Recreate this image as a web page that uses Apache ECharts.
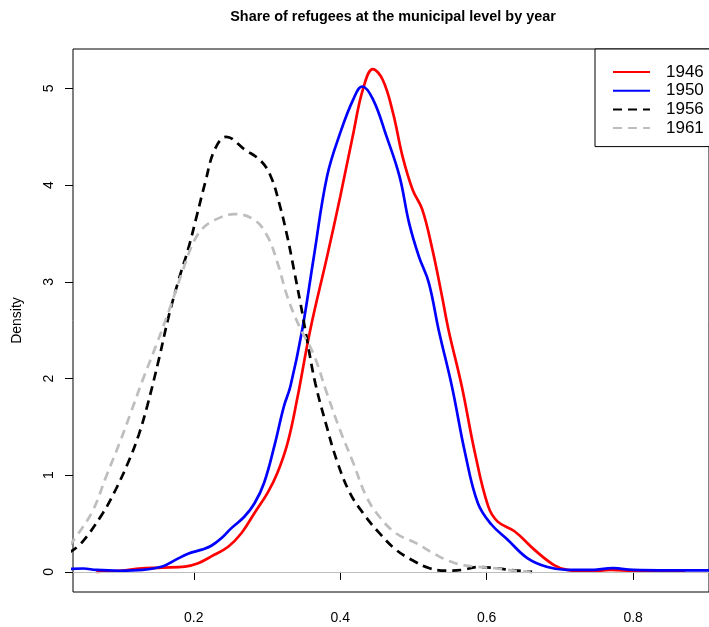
<!DOCTYPE html>
<html>
<head>
<meta charset="utf-8">
<title>Share of refugees at the municipal level by year</title>
<script src="https://cdn.jsdelivr.net/npm/echarts@6/dist/echarts.min.js"></script>
<style>
  html, body { margin: 0; padding: 0; background: #fff; }
  #chart { width: 709px; height: 627px; }
</style>
</head>
<body>
<div id="chart"></div>
<script>
// density curves, [share, density]
const years = ["1946", "1950", "1956", "1961"];
const colors = ["#ff0000", "#0000ff", "#000000", "#bebebe"];

const dens1946 = [
  [0.067, 0.0], [0.08, 0.005], [0.0985, 0.01], [0.125, 0.035], [0.157, 0.045],
  [0.188, 0.055], [0.206, 0.09], [0.224, 0.16], [0.247, 0.26], [0.265, 0.40],
  [0.283, 0.61], [0.301, 0.82], [0.314, 1.02], [0.328, 1.33], [0.341, 1.78],
  [0.359, 2.5], [0.382, 3.26], [0.400, 3.88], [0.418, 4.54], [0.431, 4.99],
  [0.4446, 5.20], [0.458, 5.09], [0.472, 4.75], [0.485, 4.30], [0.499, 3.95],
  [0.512, 3.75], [0.526, 3.33], [0.539, 2.85], [0.548, 2.50], [0.566, 1.92],
  [0.584, 1.23], [0.602, 0.68], [0.615, 0.52], [0.638, 0.42], [0.665, 0.23],
  [0.692, 0.07], [0.71, 0.02], [0.74, 0.005], [0.77, 0.02], [0.80, 0.01],
  [0.84, 0.008], [0.871, 0.005]
];

const dens1950 = [
  [0.03, 0.03], [0.049, 0.035], [0.067, 0.02], [0.0985, 0.012], [0.13, 0.02],
  [0.157, 0.055], [0.175, 0.124], [0.193, 0.19], [0.211, 0.23], [0.224, 0.27],
  [0.238, 0.35], [0.251, 0.45], [0.269, 0.57], [0.283, 0.71], [0.296, 0.92],
  [0.31, 1.3], [0.323, 1.71], [0.332, 1.92], [0.348, 2.5], [0.364, 3.26],
  [0.382, 4.09], [0.400, 4.54], [0.418, 4.89], [0.430, 5.02], [0.4446, 4.89],
  [0.463, 4.51], [0.481, 4.09], [0.494, 3.61], [0.5075, 3.26], [0.521, 2.99],
  [0.5345, 2.5], [0.5525, 1.92], [0.5705, 1.23], [0.588, 0.71], [0.6065, 0.49],
  [0.629, 0.33], [0.656, 0.14], [0.683, 0.05], [0.71, 0.02], [0.74, 0.02],
  [0.773, 0.038], [0.80, 0.02], [0.85, 0.015], [0.91, 0.015]
];

const dens1956 = [
  [0.03, 0.2], [0.0468, 0.30], [0.076, 0.61], [0.094, 0.86], [0.112, 1.16],
  [0.125, 1.42], [0.1366, 1.72], [0.1524, 2.2], [0.166, 2.65], [0.1794, 3.02],
  [0.1928, 3.35], [0.204, 3.68], [0.2154, 4.02], [0.2288, 4.37], [0.2445, 4.50],
  [0.2693, 4.37], [0.2917, 4.25], [0.3052, 4.09], [0.3165, 3.82], [0.3277, 3.47],
  [0.3367, 3.13], [0.3457, 2.78], [0.3547, 2.40], [0.366, 1.95], [0.3817, 1.50],
  [0.395, 1.16], [0.413, 0.82], [0.431, 0.61], [0.4536, 0.40], [0.476, 0.23],
  [0.4986, 0.12], [0.521, 0.04], [0.5435, 0.013], [0.566, 0.02], [0.588, 0.05],
  [0.611, 0.04], [0.633, 0.02], [0.662, 0.0]
];

const dens1961 = [
  [0.03, 0.27], [0.040, 0.37], [0.0625, 0.64], [0.0805, 0.99], [0.0985, 1.33],
  [0.1142, 1.65], [0.13, 1.98], [0.148, 2.33], [0.166, 2.70],
  [0.1838, 3.09], [0.1973, 3.37], [0.2108, 3.54], [0.2288, 3.64], [0.2558, 3.70],
  [0.2828, 3.64], [0.3007, 3.47], [0.3142, 3.20], [0.3277, 2.85], [0.3435, 2.55],
  [0.3637, 2.25], [0.3817, 1.85], [0.3996, 1.47], [0.4177, 1.13], [0.4356, 0.78],
  [0.4536, 0.57], [0.476, 0.40], [0.503, 0.30], [0.530, 0.18], [0.557, 0.09],
  [0.584, 0.055], [0.611, 0.038], [0.638, 0.013], [0.66, 0.0]
];

const xTicks = [0.2, 0.4, 0.6, 0.8];
const yTicks = [0, 1, 2, 3, 4, 5];

const font = "'Liberation Sans', Arial, Helvetica, sans-serif";
const allDens = [dens1946, dens1950, dens1956, dens1961];

const series = allDens.map((d, i) => ({
  name: years[i],
  type: "line",
  data: d,
  symbol: "none",
  smooth: 0.4,
  clip: true,
  lineStyle: {
    color: colors[i],
    width: 2.7,
    type: i >= 2 ? [9, 6] : "solid"
  },
  itemStyle: { color: colors[i] },
  markLine: i === 0 ? {
    silent: true,
    symbol: "none",
    label: { show: false },
    lineStyle: { color: "#bebebe", width: 1, type: "solid" },
    data: [{ yAxis: 0 }]
  } : undefined
}));

const chart = echarts.init(document.getElementById("chart"));
chart.setOption({
  animation: false,
  textStyle: { fontFamily: font },
  graphic: [{
    type: "text",
    x: 393,
    y: 17,
    style: {
      text: "Share of refugees at the municipal level by year",
      font: "bold 14.4px " + font,
      fill: "#000",
      textAlign: "center",
      textVerticalAlign: "middle"
    }
  }],
  grid: {
    left: 73,
    top: 49,
    width: 644,
    height: 543,
    show: true,
    borderColor: "#000",
    borderWidth: 1
  },
  legend: {
    orient: "vertical",
    left: 595,
    top: 49,
    data: years,
    itemWidth: 37,
    itemHeight: 14,
    itemGap: 1.7,
    padding: [14.5, 60, 10, 17],
    borderColor: "#000",
    borderWidth: 1,
    backgroundColor: "#fff",
    itemStyle: { color: "transparent", borderWidth: 0, opacity: 0 },
    textStyle: {
      fontSize: 17,
      lineHeight: 14,
      color: "#000",
      fontFamily: font,
      padding: [0, 0, 0, 11]
    }
  },
  xAxis: {
    type: "value",
    min: 0.0351,
    max: 0.9036,
    axisLine: { show: false },
    splitLine: { show: false },
    axisTick: {
      show: true,
      customValues: xTicks,
      length: 8,
      lineStyle: { color: "#000" }
    },
    axisLabel: {
      customValues: xTicks,
      margin: 19,
      fontSize: 14,
      color: "#000",
      fontFamily: font
    }
  },
  yAxis: {
    type: "value",
    min: -0.208,
    max: 5.408,
    name: "Density",
    nameLocation: "middle",
    nameGap: 49,
    nameTextStyle: { fontSize: 14, color: "#000", fontFamily: font },
    axisLine: { show: false },
    splitLine: { show: false },
    axisTick: {
      show: true,
      customValues: yTicks,
      length: 8,
      lineStyle: { color: "#000" }
    },
    axisLabel: {
      customValues: yTicks,
      rotate: 90,
      margin: 17,
      fontSize: 14,
      color: "#000",
      fontFamily: font
    }
  },
  series: series
});
</script>
</body>
</html>
